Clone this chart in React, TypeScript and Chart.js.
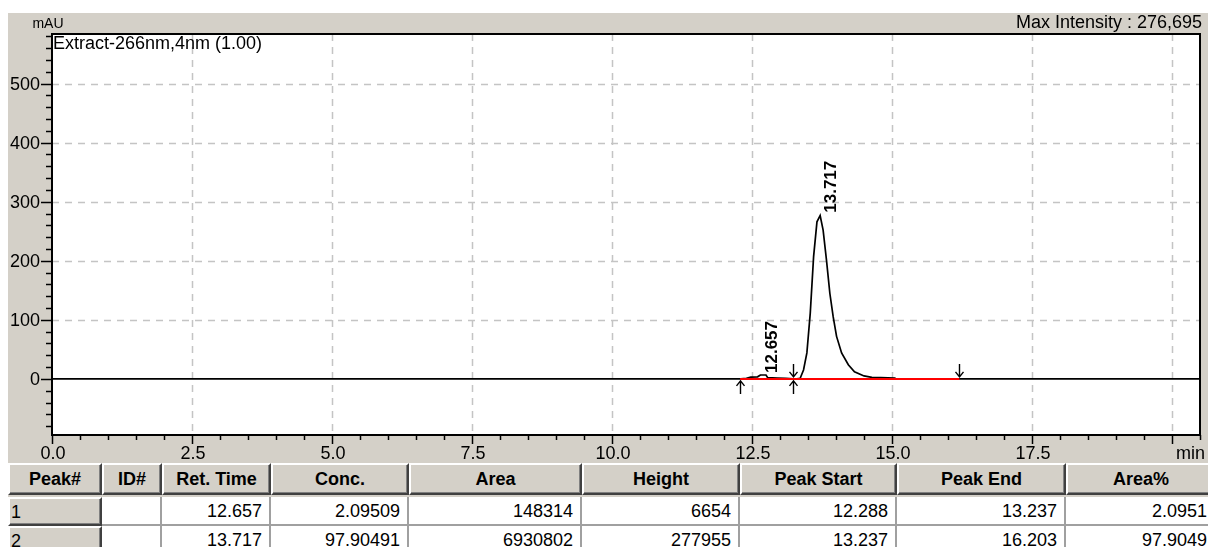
import React, { useEffect, useRef } from "react";
import { Chart, registerables } from "chart.js";
Chart.register(...registerables);

const FONT = '"Liberation Sans", Arial, sans-serif';

// ---- chromatogram signal (time in min, absorbance in mAU) ----
const timeMin = [0, 12.3, 12.4, 12.48, 12.6, 12.65, 12.75, 12.78, 12.95, 13.1, 13.237, 13.3, 13.36, 13.42, 13.48, 13.54, 13.6, 13.66, 13.717, 13.77, 13.83, 13.89, 13.95, 14.01, 14.1, 14.22, 14.33, 14.5, 14.64, 14.8, 15.05, 15.07, 20.5];
const signalMAU = [0, 0, 1, 3, 3.5, 6.6, 6.6, 2, 1.5, 1, 0, 0, 1, 15, 44, 111, 207, 266, 276.7, 252, 201, 145, 105, 72, 44, 24, 12, 5, 2.5, 2, 1.5, 0, 0];

// ---- peak table ----
const tableHeaders = ["Peak#", "ID#", "Ret. Time", "Conc.", "Area", "Height", "Peak Start", "Peak End", "Area%"];
const peakNo = [1, 2];
const peakId = ["", ""];
const retTimes = [12.657, 13.717];
const concs = [2.09509, 97.90491];
const areas = [148314, 6930802];
const heights = [6654, 277955];
const peakStarts = [12.288, 13.237];
const peakEnds = [13.237, 16.203];
const areaPcts = [2.0951, 97.9049];

// ---- axes ----
const xMajorTicks = [0, 2.5, 5, 7.5, 10, 12.5, 15, 17.5, 20];
const xTickLabels = ["0.0", "2.5", "5.0", "7.5", "10.0", "12.5", "15.0", "17.5", "min"];
const yMajorTicks = [0, 100, 200, 300, 400, 500];
const yTickLabels = ["0", "100", "200", "300", "400", "500"];
const xMin = 0, xMax = 20.5, yMin = -95, yMax = 584;
const xMinorStep = 0.5, yMinorStep = 20;

const yUnit = "mAU";
const traceName = "Extract-266nm,4nm (1.00)";
const maxIntensityText = "Max Intensity : 276,695";

const chromPlugin = {
  id: "chrom",
  beforeDraw(chart: any) {
    const { ctx, chartArea: a } = chart;
    ctx.save();
    ctx.fillStyle = "#ffffff";
    ctx.fillRect(a.left, a.top, a.right - a.left, a.bottom - a.top);
    ctx.restore();
  },
  beforeDatasetsDraw(chart: any) {
    const { ctx, chartArea: a, scales } = chart;
    const xs = scales.x, ys = scales.y;
    ctx.save();
    ctx.strokeStyle = "#c4c4c4";
    ctx.lineWidth = 1.5;
    ctx.setLineDash([7, 6]);
    xMajorTicks.forEach((v) => {
      if (v === xMin) return;
      const px = Math.round(xs.getPixelForValue(v)) + 0.5;
      ctx.beginPath();
      ctx.moveTo(px, a.top);
      ctx.lineTo(px, a.bottom);
      ctx.stroke();
    });
    yMajorTicks.forEach((v) => {
      if (v === 0) return;
      const py = Math.round(ys.getPixelForValue(v)) + 0.5;
      ctx.beginPath();
      ctx.moveTo(a.left, py);
      ctx.lineTo(a.right, py);
      ctx.stroke();
    });
    ctx.restore();
  },
  afterDatasetsDraw(chart: any) {
    const { ctx, chartArea: a, scales } = chart;
    const xs = scales.x, ys = scales.y;
    const y0 = ys.getPixelForValue(0);
    ctx.save();
    // peak start / end markers
    ctx.strokeStyle = "#000";
    ctx.lineWidth = 1.4;
    const upBelow = (x: number) => {
      ctx.beginPath();
      ctx.moveTo(x, y0 + 2); ctx.lineTo(x, y0 + 15);
      ctx.moveTo(x - 4, y0 + 7); ctx.lineTo(x, y0 + 2); ctx.lineTo(x + 4, y0 + 7);
      ctx.stroke();
    };
    const downAbove = (x: number) => {
      ctx.beginPath();
      ctx.moveTo(x, y0 - 2); ctx.lineTo(x, y0 - 15);
      ctx.moveTo(x - 4, y0 - 7); ctx.lineTo(x, y0 - 2); ctx.lineTo(x + 4, y0 - 7);
      ctx.stroke();
    };
    peakStarts.forEach((t) => upBelow(Math.round(xs.getPixelForValue(t)) + 0.5));
    peakEnds.forEach((t) => downAbove(Math.round(xs.getPixelForValue(t)) + 0.5));

    // peak labels (rotated)
    ctx.fillStyle = "#000";
    ctx.font = "bold 17px " + FONT;
    ctx.textAlign = "left";
    ctx.textBaseline = "alphabetic";
    retTimes.forEach((t, i) => {
      const px = xs.getPixelForValue(t);
      const py = ys.getPixelForValue(heights[i] / 1000);
      ctx.save();
      ctx.translate(px + 16, py - 2);
      ctx.rotate(-Math.PI / 2);
      ctx.fillText(t.toFixed(3), 0, 0);
      ctx.restore();
    });

    // trace name
    ctx.font = "18px " + FONT;
    ctx.fillText(traceName, a.left + 1, a.top + 14.5);

    // frame
    ctx.strokeStyle = "#000";
    ctx.lineWidth = 2;
    ctx.strokeRect(a.left, a.top, a.right - a.left, a.bottom - a.top);

    // y ticks
    ctx.lineWidth = 1.5;
    const nY = Math.round((yMax - yMin) / yMinorStep) + 2;
    for (let k = -10; k < nY; k++) {
      const v = k * yMinorStep;
      if (v < yMin || v > yMax) continue;
      const major = v % 100 === 0;
      const py = Math.round(ys.getPixelForValue(v)) + 0.5;
      ctx.beginPath();
      ctx.moveTo(a.left - (major ? 11 : 6), py);
      ctx.lineTo(a.left, py);
      ctx.stroke();
    }
    // x ticks
    const nX = Math.round((xMax - xMin) / xMinorStep);
    for (let k = 0; k <= nX; k++) {
      const v = xMin + k * xMinorStep;
      const major = Math.abs(v / 2.5 - Math.round(v / 2.5)) < 1e-6;
      const px = Math.round(xs.getPixelForValue(v)) + 0.5;
      ctx.beginPath();
      ctx.moveTo(px, a.bottom);
      ctx.lineTo(px, a.bottom + (major ? 9 : 5));
      ctx.stroke();
    }

    // tick labels
    ctx.font = "18px " + FONT;
    ctx.textBaseline = "middle";
    ctx.textAlign = "right";
    yMajorTicks.forEach((v, i) => {
      ctx.fillText(yTickLabels[i], a.left - 12, ys.getPixelForValue(v) + 1);
    });
    xMajorTicks.forEach((v, i) => {
      const px = xs.getPixelForValue(v);
      if (xTickLabels[i] === "min") {
        ctx.textAlign = "left";
        ctx.fillText(xTickLabels[i], px + 4, a.bottom + 19);
      } else {
        ctx.textAlign = "center";
        ctx.fillText(xTickLabels[i], px + 1, a.bottom + 19);
      }
    });

    // unit and max intensity
    ctx.textBaseline = "alphabetic";
    ctx.font = "14px " + FONT;
    ctx.textAlign = "center";
    ctx.fillText(yUnit, a.left - 4, 15);
    ctx.font = "18px " + FONT;
    ctx.textAlign = "right";
    ctx.fillText(maxIntensityText, a.right + 2, 14.5);
    ctx.restore();
  },
};

const colEdges = [0, 94, 154, 263, 401, 574, 732, 889, 1058, 1208];

export default function App() {
  const ref = useRef<HTMLCanvasElement>(null);
  useEffect(() => {
    const signal = timeMin.map((t, i) => ({ x: t, y: signalMAU[i] }));
    const baseline = [
      { x: peakStarts[0], y: 0 },
      { x: peakEnds[peakEnds.length - 1], y: 0 },
    ];
    const chart = new Chart(ref.current as HTMLCanvasElement, {
      type: "line",
      data: {
        datasets: [
          { data: baseline, borderColor: "#ff0000", borderWidth: 2, pointRadius: 0, tension: 0 },
          { data: signal, borderColor: "#000000", borderWidth: 1.7, pointRadius: 0, tension: 0 },
        ],
      },
      options: {
        responsive: false,
        animation: false,
        devicePixelRatio: 1,
        layout: { padding: { left: 44, right: 8, top: 21, bottom: 27 } },
        plugins: { legend: { display: false }, tooltip: { enabled: false } },
        events: [],
        scales: {
          x: { type: "linear", min: xMin, max: xMax, display: false },
          y: { type: "linear", min: yMin, max: yMax, display: false },
        },
      },
      plugins: [chromPlugin],
    } as any);
    return () => chart.destroy();
  }, []);

  const rows = peakNo.map((p, i) => [
    String(p),
    peakId[i],
    retTimes[i].toFixed(3),
    concs[i].toFixed(5),
    String(areas[i]),
    String(heights[i]),
    peakStarts[i].toFixed(3),
    peakEnds[i].toFixed(3),
    areaPcts[i].toFixed(4),
  ]);

  const button: React.CSSProperties = {
    position: "absolute",
    boxSizing: "border-box",
    background: "#d4d0c8",
    borderTop: "2px solid #ffffff",
    borderLeft: "2px solid #ffffff",
    borderRight: "2px solid #404040",
    borderBottom: "2px solid #404040",
    boxShadow: "inset -1px -1px 0 #808080",
    display: "flex",
    alignItems: "center",
    whiteSpace: "nowrap",
    overflow: "hidden",
    lineHeight: 1,
    color: "#000",
  };

  return (
    <div
      style={{
        position: "fixed",
        left: 8,
        top: 13,
        width: 1200,
        height: 534,
        background: "#d4d0c8",
        overflow: "hidden",
        fontFamily: FONT,
      }}
    >
      <canvas ref={ref} width={1200} height={449} style={{ position: "absolute", left: 0, top: 0, width: 1200, height: 449 }} />
      {tableHeaders.map((h, c) => (
        <div
          key={"h" + c}
          style={{
            ...button,
            left: colEdges[c],
            top: 450,
            width: colEdges[c + 1] - colEdges[c],
            height: 32,
            justifyContent: "center",
            fontWeight: "bold",
            fontSize: 18,
          }}
        >
          {h}
        </div>
      ))}
      {rows.map((r, ri) =>
        r.map((v, c) =>
          c === 0 ? (
            <div
              key={"r" + ri + "c" + c}
              style={{
                ...button,
                left: colEdges[c],
                top: 484 + ri * 29,
                width: colEdges[c + 1] - colEdges[c],
                height: 29,
                justifyContent: "flex-start",
                paddingLeft: 1,
                fontSize: 18,
              }}
            >
              {v}
            </div>
          ) : (
            <div
              key={"r" + ri + "c" + c}
              style={{
                position: "absolute",
                boxSizing: "border-box",
                left: colEdges[c],
                top: 484 + ri * 29,
                width: colEdges[c + 1] - colEdges[c],
                height: 29,
                background: "#ffffff",
                borderRight: "2px solid #a0a0a0",
                borderBottom: "2px solid #a0a0a0",
                display: "flex",
                alignItems: "center",
                justifyContent: "flex-end",
                paddingRight: 7,
                fontSize: 18,
                lineHeight: 1,
                whiteSpace: "nowrap",
                color: "#000",
              }}
            >
              {v}
            </div>
          )
        )
      )}
    </div>
  );
}
